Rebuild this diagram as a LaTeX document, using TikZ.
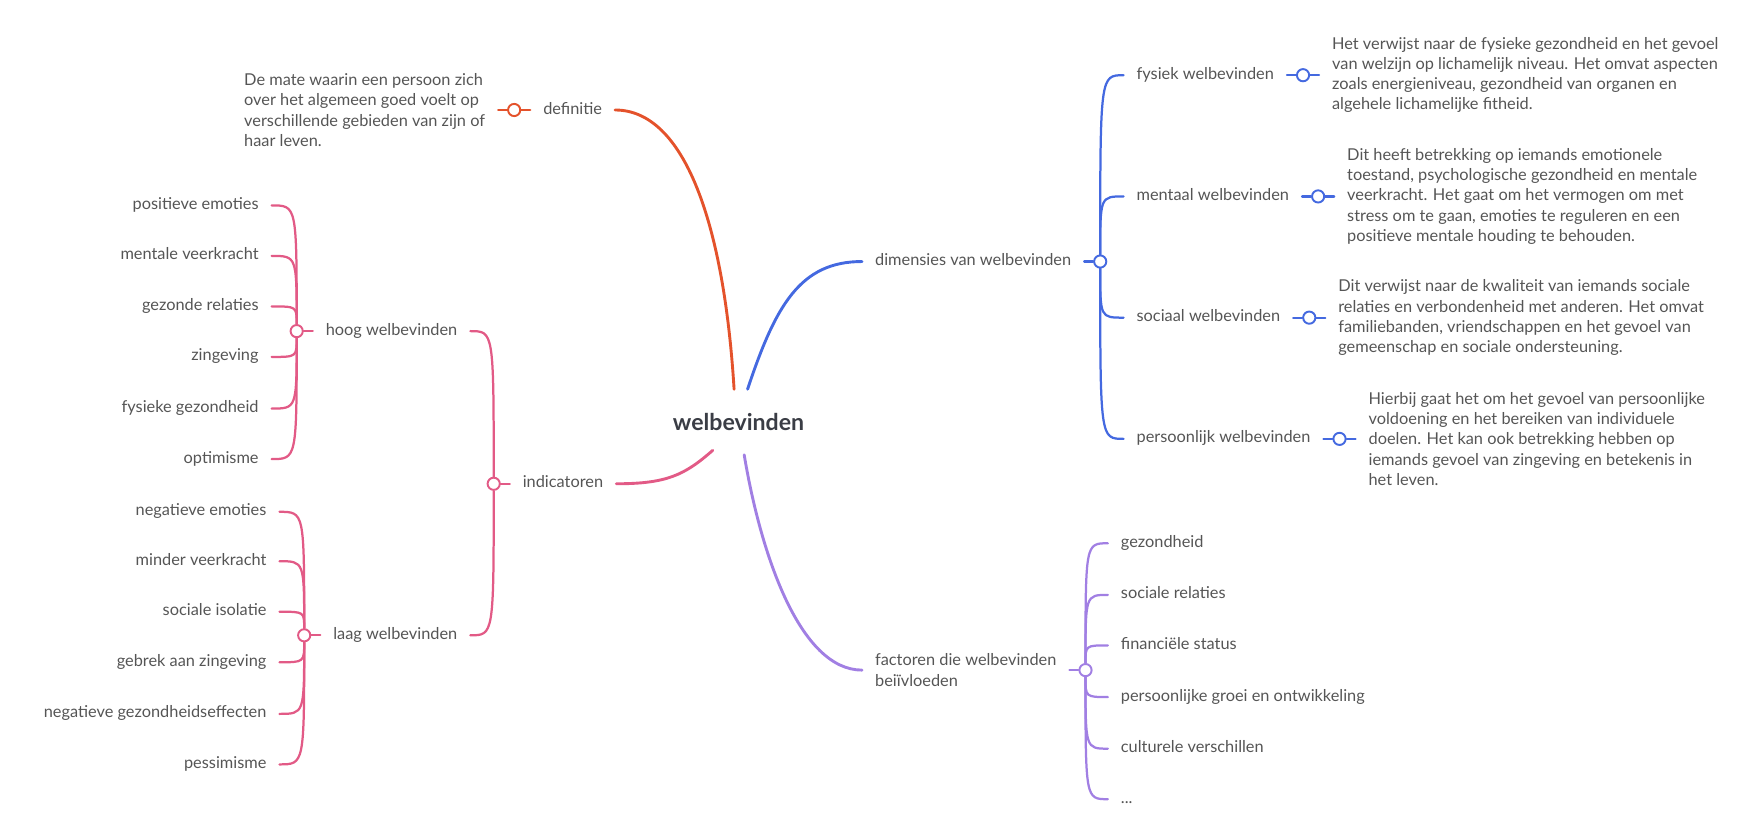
\documentclass[tikz,border=0pt]{standalone}
\usepackage{fontspec}
\setmainfont{Lato}
\usepackage{xcolor}
\usetikzlibrary{positioning,calc}

\definecolor{mmred}{HTML}{E4522B}
\definecolor{mmpink}{HTML}{E25A86}
\definecolor{mmblue}{HTML}{4469E0}
\definecolor{mmpurple}{HTML}{A17FE3}
\definecolor{mmtext}{HTML}{555555}
\definecolor{mmtitle}{HTML}{3A3D45}

\begin{document}
\begin{tikzpicture}[
    x=0.35mm, y=-0.35mm,
    node distance=2.8mm,
    every node/.style={text=mmtext, font=\fontsize{14.5}{17.9}\selectfont},
    topic/.style={inner xsep=4mm, inner ysep=0pt, text height=10.5pt, text depth=3.3pt},
    leaf/.style={inner xsep=4mm, inner ysep=0pt, text height=10.5pt, text depth=3.3pt},
    note/.style={align=left, inner xsep=4mm, inner ysep=0pt},
    knob/.style={circle, draw, fill=white, line width=0.6mm, minimum size=3.8mm, inner sep=0pt},
    branch/.style={line width=0.9mm, line cap=round},
    twig/.style={line width=0.7mm, line cap=round}
]
\useasboundingbox (0,0) rectangle (1568,735);

\node[font=\fontsize{20.5}{24}\selectfont\bfseries, text=mmtitle, minimum height=20.3mm, inner xsep=0pt] (wb) at (658,376) {welbevinden};

% definitie
\node[topic, anchor=east] (def) at (548,98) {definitie};
\node[knob, draw=mmred, left=of def] (defdot) {};
\node[note, left=of defdot] (defnote) {De mate waarin een persoon zich\\over het algemeen goed voelt op\\verschillende gebieden van zijn of\\haar leven.};

% indicatoren
\node[topic, anchor=east] (ind) at (549,431) {indicatoren};
\node[knob, draw=mmpink, left=of ind] (inddot) {};
\node[topic, anchor=east] (hoog) at (419,295) {hoog welbevinden};
\node[knob, draw=mmpink, left=of hoog] (hoogdot) {};
\node[topic, anchor=east] (laag) at (419,566) {laag welbevinden};
\node[knob, draw=mmpink, left=of laag] (laagdot) {};

\node[leaf, anchor=east] (hpos) at (242,183) {positieve emoties};
\node[leaf, anchor=east] (hmen) at (242,228) {mentale veerkracht};
\node[leaf, anchor=east] (hrel) at (242,273) {gezonde relaties};
\node[leaf, anchor=east] (hzin) at (242,318) {zingeving};
\node[leaf, anchor=east] (hfys) at (242,364) {fysieke gezondheid};
\node[leaf, anchor=east] (hopt) at (242,409) {optimisme};

\node[leaf, anchor=east] (lneg) at (249,456) {negatieve emoties};
\node[leaf, anchor=east] (lmin) at (249,500) {minder veerkracht};
\node[leaf, anchor=east] (liso) at (249,545) {sociale isolatie};
\node[leaf, anchor=east] (lgeb) at (249,590) {gebrek aan zingeving};
\node[leaf, anchor=east] (leff) at (249,636) {negatieve gezondheidseffecten};
\node[leaf, anchor=east] (lpes) at (249,681) {pessimisme};

% dimensies
\node[topic, anchor=west] (dim) at (768,233) {dimensies van welbevinden};
\node[knob, draw=mmblue, right=of dim] (dimdot) {};

\node[leaf, anchor=west] (dfys) at (1001,67) {fysiek welbevinden};
\node[knob, draw=mmblue, right=of dfys] (dfysdot) {};
\node[note, right=of dfysdot] (dfysnote) {Het verwijst naar de fysieke gezondheid en het gevoel\\van welzijn op lichamelijk niveau. Het omvat aspecten\\zoals energieniveau, gezondheid van organen en\\algehele lichamelijke fitheid.};

\node[leaf, anchor=west] (dmen) at (1001,175) {mentaal welbevinden};
\node[knob, draw=mmblue, right=of dmen] (dmendot) {};
\node[note, right=of dmendot] (dmennote) {Dit heeft betrekking op iemands emotionele\\toestand, psychologische gezondheid en mentale\\veerkracht. Het gaat om het vermogen om met\\stress om te gaan, emoties te reguleren en een\\positieve mentale houding te behouden.};

\node[leaf, anchor=west] (dsoc) at (1001,283) {sociaal welbevinden};
\node[knob, draw=mmblue, right=of dsoc] (dsocdot) {};
\node[note, right=of dsocdot] (dsocnote) {Dit verwijst naar de kwaliteit van iemands sociale\\relaties en verbondenheid met anderen. Het omvat\\familiebanden, vriendschappen en het gevoel van\\gemeenschap en sociale ondersteuning.};

\node[leaf, anchor=west] (dper) at (1001,391) {persoonlijk welbevinden};
\node[knob, draw=mmblue, right=of dper] (dperdot) {};
\node[note, right=of dperdot] (dpernote) {Hierbij gaat het om het gevoel van persoonlijke\\voldoening en het bereiken van individuele\\doelen. Het kan ook betrekking hebben op\\iemands gevoel van zingeving en betekenis in\\het leven.};

% factoren
\node[note, anchor=west] (fac) at (768,597) {factoren die welbevinden\\beiïvloeden};
\node[knob, draw=mmpurple, right=of fac] (facdot) {};

\node[leaf, anchor=west] (fgez) at (987,484) {gezondheid};
\node[leaf, anchor=west] (fsoc) at (987,530) {sociale relaties};
\node[leaf, anchor=west] (ffin) at (987,575) {financiële status};
\node[leaf, anchor=west] (fgro) at (987,621) {persoonlijke groei en ontwikkeling};
\node[leaf, anchor=west] (fcul) at (987,667) {culturele verschillen};
\node[leaf, anchor=west] (fmore) at (987,712) {...};

% main branches
\draw[branch, mmred] ($(wb.north)+(-4,0)$) .. controls +(-9,-147) and +(62,0) .. (def.east);
\draw[branch, mmblue] ($(wb.north)+(8,0)$) .. controls +(25,-75) and +(-55,0) .. (dim.west);
\draw[branch, mmpink] ($(wb.south)+(-23,-4)$) .. controls +(-25,22) and +(45,0) .. (ind.east);
\draw[branch, mmpurple] ($(wb.south)+(5,0)$) .. controls +(15,90) and +(-55,0) .. (fac.west);

% stubs
\draw[twig, mmred] (defdot.east) -- (def.west);
\draw[twig, mmred] (defdot.west) -- (defnote.east);
\draw[twig, mmpink] (inddot.east) -- (ind.west);
\draw[twig, mmpink] (hoogdot.east) -- (hoog.west);
\draw[twig, mmpink] (laagdot.east) -- (laag.west);
\draw[twig, mmblue] (dimdot.west) -- (dim.east);
\draw[twig, mmblue] (dfysdot.west) -- (dfys.east);
\draw[twig, mmblue] (dfysdot.east) -- (dfysnote.west);
\draw[twig, mmblue] (dmendot.west) -- (dmen.east);
\draw[twig, mmblue] (dmendot.east) -- (dmennote.west);
\draw[twig, mmblue] (dsocdot.west) -- (dsoc.east);
\draw[twig, mmblue] (dsocdot.east) -- (dsocnote.west);
\draw[twig, mmblue] (dperdot.west) -- (dper.east);
\draw[twig, mmblue] (dperdot.east) -- (dpernote.west);
\draw[twig, mmpurple] (facdot.west) -- (fac.east);

% fans
\draw[twig, mmpink] (inddot.north) .. controls (inddot |- hoog) .. (hoog.east);
\draw[twig, mmpink] (inddot.south) .. controls (inddot |- laag) .. (laag.east);

\draw[twig, mmpink] (hoogdot.north) .. controls (hoogdot |- hpos) .. (hpos.east);
\draw[twig, mmpink] (hoogdot.north) .. controls (hoogdot |- hmen) .. (hmen.east);
\draw[twig, mmpink] (hoogdot.north) .. controls (hoogdot |- hrel) .. (hrel.east);
\draw[twig, mmpink] (hoogdot.south) .. controls (hoogdot |- hzin) .. (hzin.east);
\draw[twig, mmpink] (hoogdot.south) .. controls (hoogdot |- hfys) .. (hfys.east);
\draw[twig, mmpink] (hoogdot.south) .. controls (hoogdot |- hopt) .. (hopt.east);

\draw[twig, mmpink] (laagdot.north) .. controls (laagdot |- lneg) .. (lneg.east);
\draw[twig, mmpink] (laagdot.north) .. controls (laagdot |- lmin) .. (lmin.east);
\draw[twig, mmpink] (laagdot.north) .. controls (laagdot |- liso) .. (liso.east);
\draw[twig, mmpink] (laagdot.south) .. controls (laagdot |- lgeb) .. (lgeb.east);
\draw[twig, mmpink] (laagdot.south) .. controls (laagdot |- leff) .. (leff.east);
\draw[twig, mmpink] (laagdot.south) .. controls (laagdot |- lpes) .. (lpes.east);

\draw[twig, mmblue] (dimdot.north) .. controls (dimdot |- dfys) .. (dfys.west);
\draw[twig, mmblue] (dimdot.north) .. controls (dimdot |- dmen) .. (dmen.west);
\draw[twig, mmblue] (dimdot.south) .. controls (dimdot |- dsoc) .. (dsoc.west);
\draw[twig, mmblue] (dimdot.south) .. controls (dimdot |- dper) .. (dper.west);

\draw[twig, mmpurple] (facdot.north) .. controls (facdot |- fgez) .. (fgez.west);
\draw[twig, mmpurple] (facdot.north) .. controls (facdot |- fsoc) .. (fsoc.west);
\draw[twig, mmpurple] (facdot.north) .. controls (facdot |- ffin) .. (ffin.west);
\draw[twig, mmpurple] (facdot.south) .. controls (facdot |- fgro) .. (fgro.west);
\draw[twig, mmpurple] (facdot.south) .. controls (facdot |- fcul) .. (fcul.west);
\draw[twig, mmpurple] (facdot.south) .. controls (facdot |- fmore) .. (fmore.west);
\end{tikzpicture}
\end{document}
